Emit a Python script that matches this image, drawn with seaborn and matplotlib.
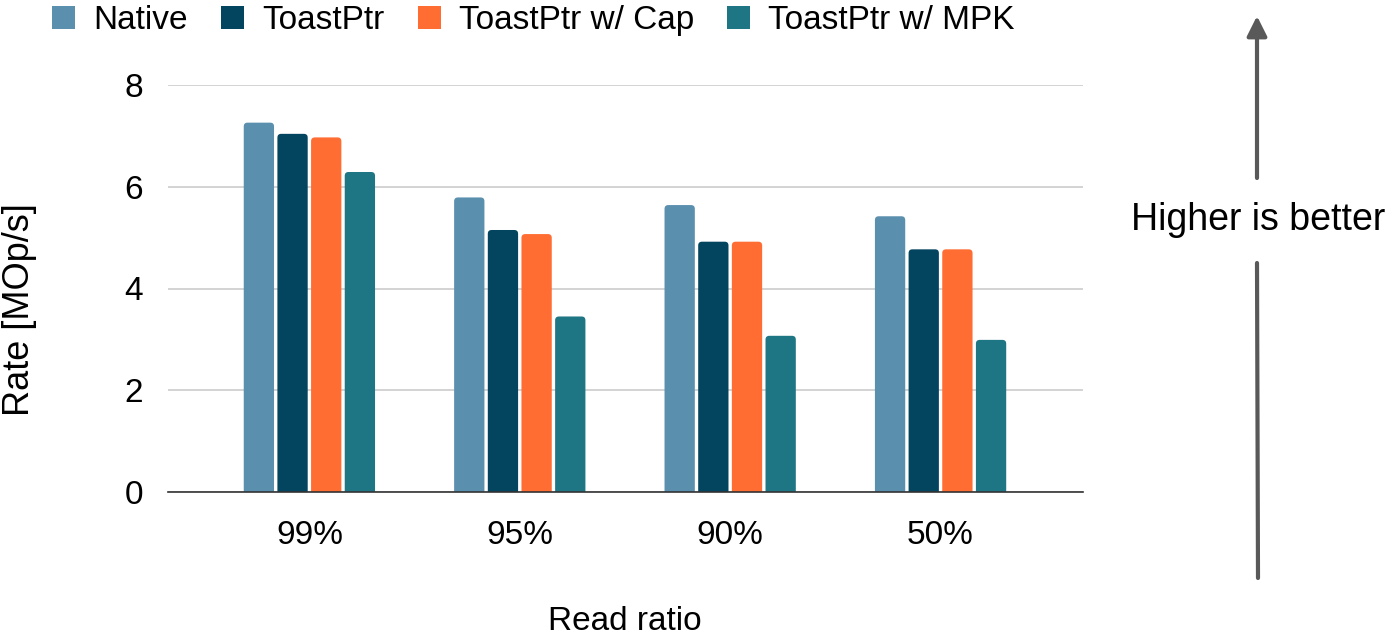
import matplotlib
matplotlib.use("Agg")
import matplotlib.pyplot as plt
import seaborn as sns
import pandas as pd
from matplotlib.patches import FancyArrowPatch, FancyBboxPatch, Patch
from matplotlib.lines import Line2D

# values
ratios = ["99%", "95%", "90%", "50%"]
series = ["Native", "ToastPtr", "ToastPtr w/ Cap", "ToastPtr w/ MPK"]
native = [7.26, 5.79, 5.64, 5.42]
toastptr = [7.04, 5.15, 4.92, 4.77]
toastptr_cap = [6.97, 5.07, 4.92, 4.77]
toastptr_mpk = [6.29, 3.45, 3.07, 2.99]
colors = ["#5a8fae", "#03445f", "#ff6d33", "#1e7684"]

rows = []
for name, vals in zip(series, [native, toastptr, toastptr_cap, toastptr_mpk]):
    for r, v in zip(ratios, vals):
        rows.append({"ratio": r, "series": name, "rate": v})
df = pd.DataFrame(rows)

sns.set_theme(style="white")
plt.rcParams["font.family"] = ["Liberation Sans", "DejaVu Sans"]
plt.rcParams["text.color"] = "black"

fig = plt.figure(figsize=(13.87, 6.39), dpi=100)
W, H = 1387, 639
ax = fig.add_axes([168 / W, 1 - 492 / H, (1083 - 168) / W, (492 - 85) / H])

sns.barplot(data=df, x="ratio", y="rate", hue="series", order=ratios,
            hue_order=series, palette=colors, width=0.64, gap=0.1,
            saturation=1, ax=ax, legend=False)

ax.set_ylim(0, 8)
ax.set_xlim(-0.672, 3.677)

# swap the plain bars for slightly rounded ones
for p in list(ax.patches):
    x, w, h = p.get_x(), p.get_width(), p.get_height()
    rb = FancyBboxPatch((x, -0.1), w, h + 0.1,
                        boxstyle="round,pad=0,rounding_size=0.018",
                        mutation_aspect=4.1, facecolor=p.get_facecolor(),
                        edgecolor="none", zorder=p.get_zorder())
    p.set_visible(False)
    ax.add_patch(rb)

ax.set_yticks([0, 2, 4, 6, 8])
ax.yaxis.grid(True, color="#cccccc", linewidth=1.2)
ax.set_axisbelow(True)
for s in ["top", "right", "left"]:
    ax.spines[s].set_visible(False)
ax.spines["bottom"].set_color("#333333")
ax.spines["bottom"].set_linewidth(1.2)
ax.spines["bottom"].set_zorder(5)
ax.tick_params(axis="both", length=0, labelsize=24, colors="black")
ax.tick_params(axis="x", pad=20)
ax.tick_params(axis="y", pad=18)
ax.set_xlabel("")
ax.set_ylabel("")

fig.text(20 / W, 1 - 310 / H, "Rate [MOp/s]", rotation=90, ha="center",
         va="center", fontsize=26)
fig.text(625 / W, 1 - 622 / H, "Read ratio", ha="center", va="center",
         fontsize=24)

handles = [Patch(facecolor=c, edgecolor="none") for c in colors]
fig.legend(handles, series, loc="upper left", bbox_to_anchor=(0.016, 1.039),
           ncol=4, frameon=False, fontsize=24, handlelength=0.69,
           handleheight=0.69, handletextpad=0.54, columnspacing=1.0)

# "Higher is better" arrow on the right
fig.add_artist(Line2D([1258 / W, 1257 / W], [1 - 578 / H, 1 - 263 / H],
                      transform=fig.transFigure, color="#595959", linewidth=3))
fig.add_artist(FancyArrowPatch((1257 / W, 1 - 178 / H), (1257 / W, 1 - 16 / H),
                               transform=fig.transFigure, color="#595959",
                               arrowstyle="-|>,head_length=12,head_width=6",
                               linewidth=3, shrinkA=0, shrinkB=0))
fig.text(1258 / W, 1 - 220 / H, "Higher is better", ha="center", va="center",
         fontsize=27)

fig.savefig("out.png", dpi=100)
